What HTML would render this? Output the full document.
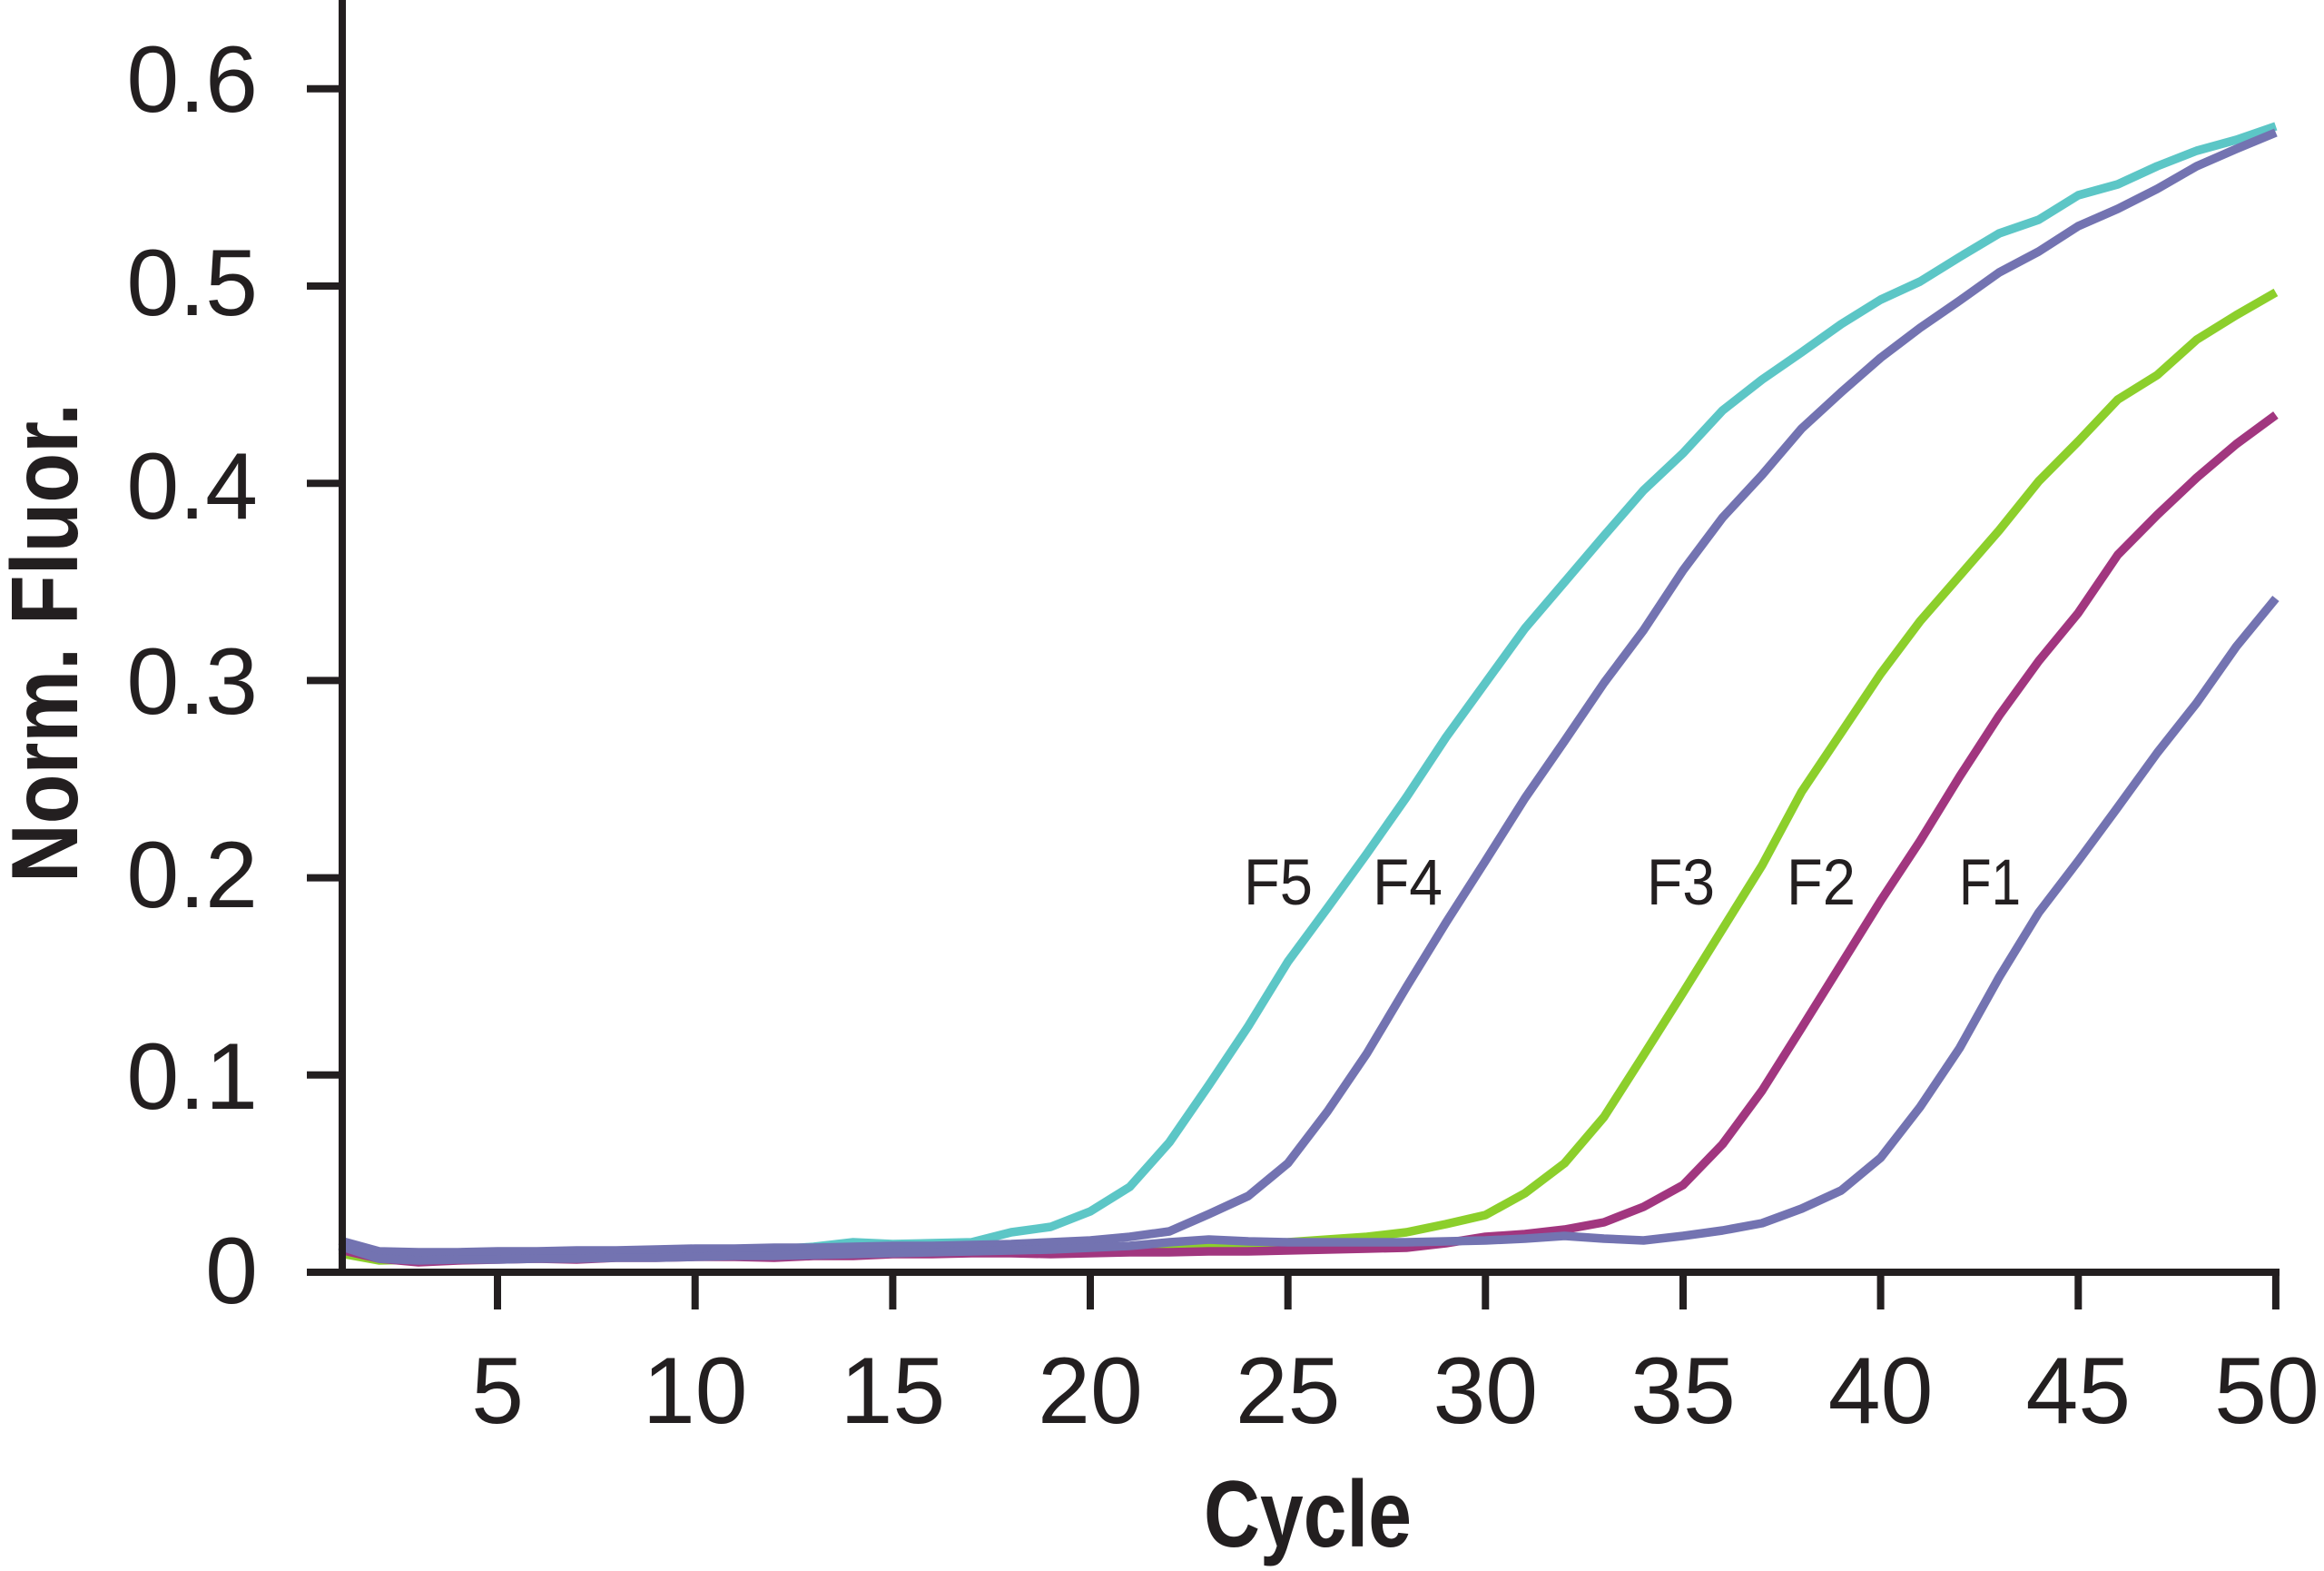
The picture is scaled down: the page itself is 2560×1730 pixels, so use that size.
<!DOCTYPE html>
<html>
<head>
<meta charset="utf-8">
<style>
  html, body { margin: 0; padding: 0; background: #ffffff; }
  svg { display: block; }
  .tick { font-family: "Liberation Sans", sans-serif; font-size: 104px; fill: #231F20; }
  .lab { font-family: "Liberation Sans", sans-serif; font-size: 71px; fill: #231F20; }
  .title { font-family: "Liberation Sans", sans-serif; font-size: 104px; font-weight: bold; fill: #231F20; }
</style>
</head>
<body>
<svg width="2560" height="1730" viewBox="0 0 2560 1730" xmlns="http://www.w3.org/2000/svg">
  <rect x="0" y="0" width="2560" height="1730" fill="#ffffff"/>

  <!-- Series -->
  <g fill="none" stroke-width="9.5" stroke-linejoin="round" stroke-linecap="butt">
    <!-- F5 cyan -->
    <polyline stroke="#5CC6C6" points="373.9,1370 417.5,1381 461.0,1382 504.5,1381 548.0,1380 591.6,1380 635.1,1379 678.6,1379 722.2,1378 765.7,1377 809.2,1376 852.8,1376 896.3,1373 939.8,1368 983.4,1370 1026.9,1369 1070.4,1368 1113.9,1357 1157.5,1351 1201.0,1334 1244.5,1307 1288.1,1258 1331.6,1195 1375.1,1130 1418.7,1059 1462.2,1000 1505.7,940 1549.2,878 1592.8,812 1636.3,752 1679.8,692 1723.4,641 1766.9,590 1810.4,540 1854.0,499 1897.5,452 1941.0,418 1984.5,388 2028.1,357 2071.6,330 2115.1,310 2158.7,283 2202.2,257 2245.7,242 2289.3,215 2332.8,203 2376.3,183 2419.8,166 2463.4,154 2506.9,139"/>
    <!-- F3 green -->
    <polyline stroke="#8CCF2B" points="373.9,1380 417.5,1388 461.0,1387 504.5,1386 548.0,1386 591.6,1385 635.1,1385 678.6,1384 722.2,1384 765.7,1383 809.2,1383 852.8,1382 896.3,1382 939.8,1381 983.4,1380 1026.9,1380 1070.4,1379 1113.9,1379 1157.5,1380 1201.0,1376 1244.5,1375 1288.1,1374 1331.6,1372 1375.1,1370 1418.7,1368 1462.2,1365 1505.7,1362 1549.2,1357 1592.8,1348 1636.3,1338 1679.8,1314 1723.4,1281 1766.9,1230 1810.4,1162 1854.0,1093 1897.5,1023 1941.0,953 1984.5,872 2028.1,807 2071.6,742 2115.1,684 2158.7,634 2202.2,584 2245.7,530 2289.3,486 2332.8,440 2376.3,413 2419.8,374 2463.4,347 2506.9,322"/>
    <!-- F2 magenta -->
    <polyline stroke="#A1367F" points="373.9,1376 417.5,1386 461.0,1390 504.5,1388 548.0,1387 591.6,1386 635.1,1387 678.6,1385 722.2,1385 765.7,1384 809.2,1384 852.8,1385 896.3,1383 939.8,1383 983.4,1381 1026.9,1381 1070.4,1380 1113.9,1380 1157.5,1381 1201.0,1380 1244.5,1379 1288.1,1379 1331.6,1378 1375.1,1378 1418.7,1377 1462.2,1376 1505.7,1375 1549.2,1374 1592.8,1369 1636.3,1362 1679.8,1359 1723.4,1354 1766.9,1346 1810.4,1329 1854.0,1305 1897.5,1260 1941.0,1201 1984.5,1132 2028.1,1062 2071.6,992 2115.1,926 2158.7,855 2202.2,788 2245.7,728 2289.3,675 2332.8,611 2376.3,567 2419.8,526 2463.4,489 2506.9,457"/>
    <!-- F4 purple -->
    <polyline stroke="#7373B1" points="373.9,1366 417.5,1378 461.0,1379 504.5,1379 548.0,1378 591.6,1378 635.1,1377 678.6,1377 722.2,1376 765.7,1375 809.2,1375 852.8,1374 896.3,1374 939.8,1373 983.4,1372 1026.9,1372 1070.4,1371 1113.9,1370 1157.5,1368 1201.0,1366 1244.5,1362 1288.1,1356 1331.6,1337 1375.1,1317 1418.7,1281 1462.2,1224 1505.7,1160 1549.2,1087 1592.8,1016 1636.3,948 1679.8,879 1723.4,816 1766.9,752 1810.4,694 1854.0,628 1897.5,570 1941.0,523 1984.5,472 2028.1,432 2071.6,394 2115.1,361 2158.7,331 2202.2,300 2245.7,277 2289.3,249 2332.8,230 2376.3,208 2419.8,183 2463.4,164 2506.9,146"/>
    <!-- F1 purple -->
    <polyline stroke="#7373B1" points="373.9,1372 417.5,1386 461.0,1388 504.5,1387 548.0,1387 591.6,1386 635.1,1386 678.6,1385 722.2,1385 765.7,1384 809.2,1383 852.8,1383 896.3,1382 939.8,1381 983.4,1380 1026.9,1379 1070.4,1378 1113.9,1377 1157.5,1376 1201.0,1374 1244.5,1372 1288.1,1368 1331.6,1365 1375.1,1367 1418.7,1368 1462.2,1368 1505.7,1368 1549.2,1368 1592.8,1367 1636.3,1366 1679.8,1364 1723.4,1361 1766.9,1364 1810.4,1366 1854.0,1361 1897.5,1355 1941.0,1347 1984.5,1331 2028.1,1311 2071.6,1275 2115.1,1219 2158.7,1154 2202.2,1076 2245.7,1005 2289.3,948 2332.8,889 2376.3,829 2419.8,774 2463.4,712 2506.9,659"/>
  </g>

  <!-- Axes -->
  <g stroke="#231F20" fill="none">
    <line x1="377" y1="0" x2="377" y2="1405" stroke-width="8"/>
    <line x1="338" y1="1401" x2="2511" y2="1401" stroke-width="8"/>
    <!-- y ticks -->
    <g stroke-width="8">
      <line x1="338" y1="97.8" x2="377" y2="97.8"/>
      <line x1="338" y1="315" x2="377" y2="315"/>
      <line x1="338" y1="532.2" x2="377" y2="532.2"/>
      <line x1="338" y1="749.4" x2="377" y2="749.4"/>
      <line x1="338" y1="966.6" x2="377" y2="966.6"/>
      <line x1="338" y1="1183.8" x2="377" y2="1183.8"/>
    </g>
    <!-- x ticks -->
    <g stroke-width="8">
      <line x1="548" y1="1401" x2="548" y2="1442"/>
      <line x1="765.7" y1="1401" x2="765.7" y2="1442"/>
      <line x1="983.4" y1="1401" x2="983.4" y2="1442"/>
      <line x1="1201" y1="1401" x2="1201" y2="1442"/>
      <line x1="1418.7" y1="1401" x2="1418.7" y2="1442"/>
      <line x1="1636.3" y1="1401" x2="1636.3" y2="1442"/>
      <line x1="1854" y1="1401" x2="1854" y2="1442"/>
      <line x1="2071.6" y1="1401" x2="2071.6" y2="1442"/>
      <line x1="2289.3" y1="1401" x2="2289.3" y2="1442"/>
      <line x1="2506.9" y1="1401" x2="2506.9" y2="1442"/>
    </g>
  </g>

  <!-- Y tick labels -->
  <g class="tick" text-anchor="end">
    <text x="284" y="123">0.6</text>
    <text x="284" y="347">0.5</text>
    <text x="284" y="571">0.4</text>
    <text x="284" y="786">0.3</text>
    <text x="284" y="999">0.2</text>
    <text x="284" y="1221">0.1</text>
    <text x="284" y="1435">0</text>
  </g>

  <!-- X tick labels -->
  <g class="tick" text-anchor="middle">
    <text x="548" y="1567">5</text>
    <text x="765.7" y="1567">10</text>
    <text x="983.4" y="1567">15</text>
    <text x="1201" y="1567">20</text>
    <text x="1418.7" y="1567">25</text>
    <text x="1636.3" y="1567">30</text>
    <text x="1854" y="1567">35</text>
    <text x="2071.6" y="1567">40</text>
    <text x="2289.3" y="1567">45</text>
    <text x="2497" y="1567">50</text>
  </g>

  <!-- Series labels -->
  <g class="lab">
    <text x="1370" y="996" textLength="76" lengthAdjust="spacingAndGlyphs">F5</text>
    <text x="1512" y="996" textLength="77" lengthAdjust="spacingAndGlyphs">F4</text>
    <text x="1814" y="996" textLength="75" lengthAdjust="spacingAndGlyphs">F3</text>
    <text x="1968" y="996" textLength="76" lengthAdjust="spacingAndGlyphs">F2</text>
    <text x="2158" y="996" textLength="68" lengthAdjust="spacingAndGlyphs">F1</text>
  </g>

  <!-- Axis titles -->
  <text class="title" x="1326" y="1703" textLength="229" lengthAdjust="spacingAndGlyphs">Cycle</text>
  <text class="title" transform="translate(85,972) rotate(-90)" x="0" y="0" textLength="528" lengthAdjust="spacingAndGlyphs">Norm. Fluor.</text>
</svg>
</body>
</html>
